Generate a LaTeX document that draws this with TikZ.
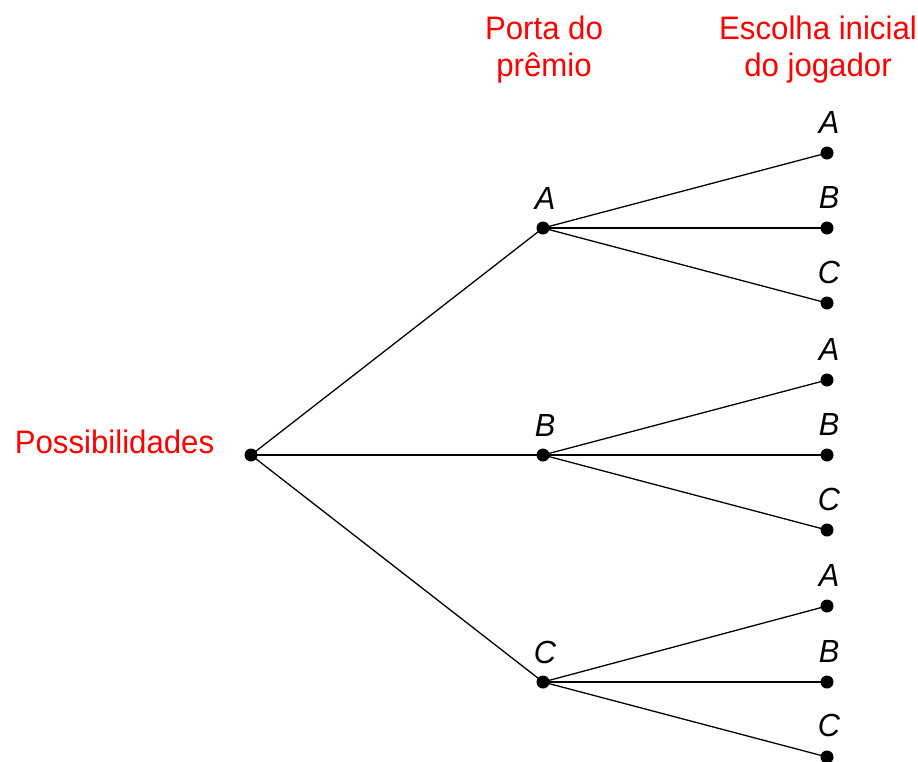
\documentclass[tikz,border=0pt]{standalone}
\usepackage{fontspec}
\setmainfont[FakeStretch=0.96]{Liberation Sans}
\begin{document}
\begin{tikzpicture}[x=1pt,y=-1pt,
  dot/.style={circle,fill=black,inner sep=0pt,minimum size=13pt},
  lbl/.style={font=\fontsize{32}{38}\selectfont\itshape,anchor=base,inner sep=0pt},
  ttl/.style={font=\fontsize{32.5}{38}\selectfont,text=red,anchor=base,inner sep=0pt},
  edge/.style={line width=1.3pt}]
\useasboundingbox (0,0) rectangle (918,761);
% titles
\node[ttl] (t1a) at (544,39) {Porta do};
\node[ttl] (t1b) at (544,76) {prêmio};
\node[ttl] (t2a) at (818,39) {Escolha inicial};
\node[ttl] (t2b) at (818,76) {do jogador};
\node[ttl] (poss) at (114.5,453) {Possibilidades};
% nodes
\node[dot] (r) at (251,455) {};
\node[dot] (A) at (543,228) {};
\node[dot] (B) at (543,455) {};
\node[dot] (C) at (543,682) {};
\node[dot] (AA) at (827,153) {};
\node[dot] (AB) at (827,228) {};
\node[dot] (AC) at (827,303) {};
\node[dot] (BA) at (827,380) {};
\node[dot] (BB) at (827,455) {};
\node[dot] (BC) at (827,530) {};
\node[dot] (CA) at (827,606) {};
\node[dot] (CB) at (827,682) {};
\node[dot] (CC) at (827,757) {};
% labels
\node[lbl] (lA) at (545,209) {A};
\node[lbl] (lB) at (545,436) {B};
\node[lbl] (lC) at (545,663) {C};
\node[lbl] (lAA) at (829,133) {A};
\node[lbl] (lAB) at (829,208) {B};
\node[lbl] (lAC) at (829,283) {C};
\node[lbl] (lBA) at (829,360) {A};
\node[lbl] (lBB) at (829,435) {B};
\node[lbl] (lBC) at (829,510) {C};
\node[lbl] (lCA) at (829,586) {A};
\node[lbl] (lCB) at (829,662) {B};
\node[lbl] (lCC) at (829,736) {C};
% edges
\draw[edge] (r.center) -- (A.center);
\draw[edge] (r.center) -- (B.center);
\draw[edge] (r.center) -- (C.center);
\foreach \p in {A,B,C}{
  \foreach \q in {A,B,C}{
    \draw[edge] (\p.center) -- (\p\q.center);
  }
}
\end{tikzpicture}
\end{document}
